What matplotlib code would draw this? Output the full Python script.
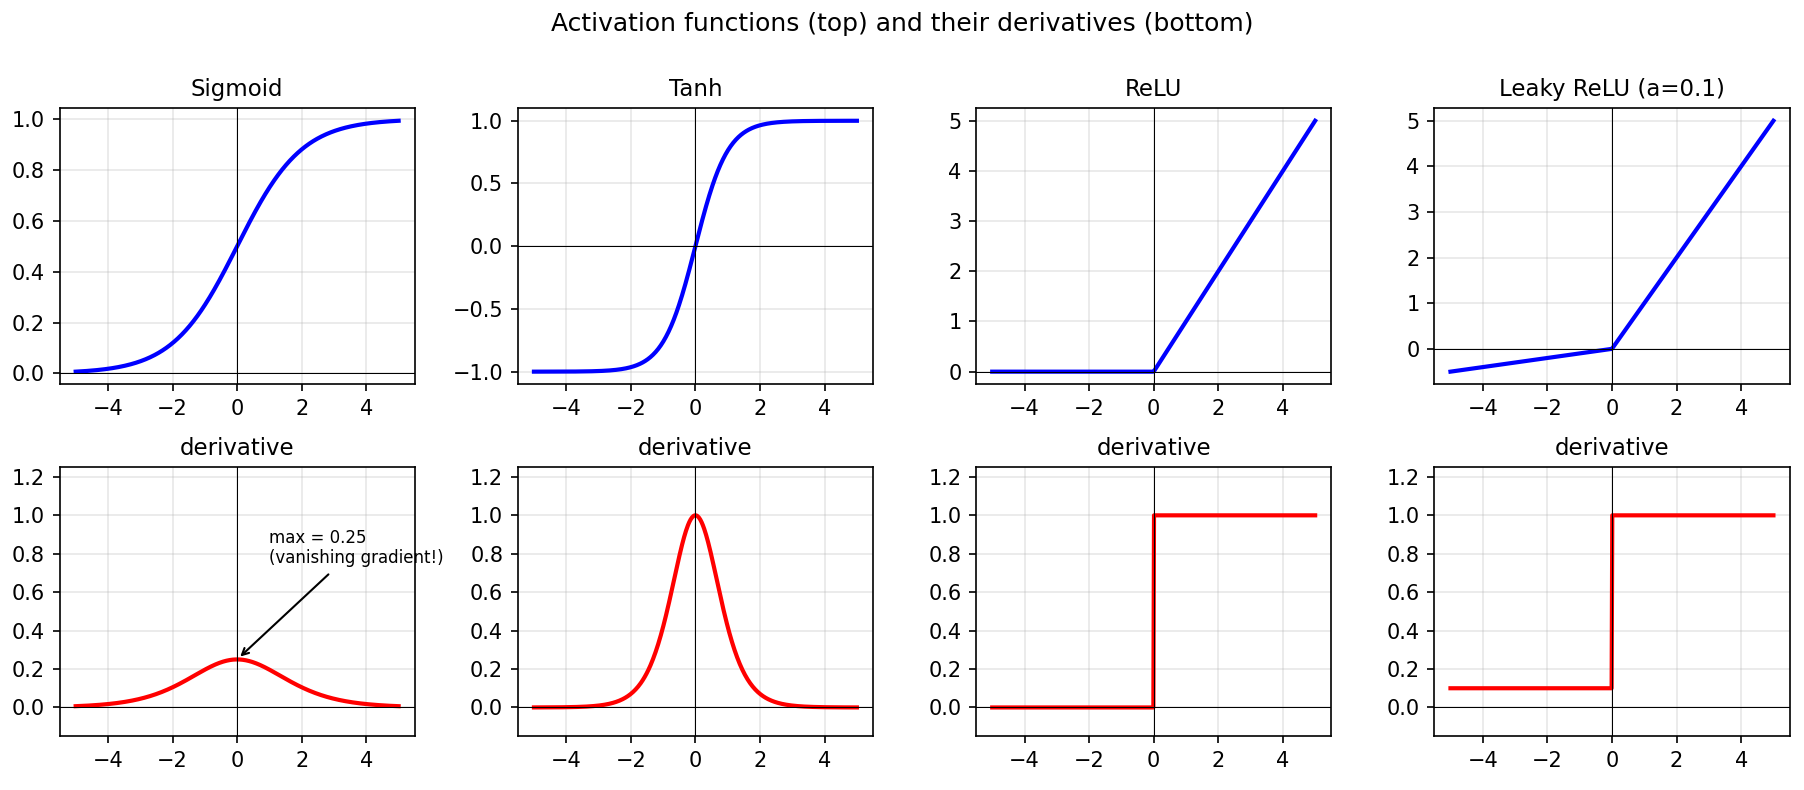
import numpy as np
import matplotlib
matplotlib.use("Agg")
import matplotlib.pyplot as plt
from matplotlib.ticker import MultipleLocator

# x range and parameters
x_min, x_max = -5, 5
n_points = 500
leaky_alpha = 0.1

titles = ["Sigmoid", "Tanh", "ReLU", "Leaky ReLU (a=0.1)"]
top_ytick_steps = [0.2, 0.5, 1, 1]

x = np.linspace(x_min, x_max, n_points)


def sigmoid(z):
    return 1 / (1 + np.exp(-z))


funcs = [
    sigmoid(x),
    np.tanh(x),
    np.maximum(0, x),
    np.where(x > 0, x, leaky_alpha * x),
]
derivs = [
    sigmoid(x) * (1 - sigmoid(x)),
    1 - np.tanh(x) ** 2,
    (x > 0).astype(float),
    np.where(x > 0, 1.0, leaky_alpha),
]

fig, axes = plt.subplots(2, 4, figsize=(1804 / 150, 790 / 150), dpi=150,
                         gridspec_kw={"height_ratios": [276, 269]})
fig.subplots_adjust(left=0.033, right=0.992, top=0.863, bottom=0.068,
                    wspace=0.29, hspace=0.305)

for i in range(4):
    ax = axes[0, i]
    ax.plot(x, funcs[i], color="blue", lw=2)
    ax.set_title(titles[i], fontsize=11)
    ax.axhline(0, color="k", lw=0.5)
    ax.axvline(0, color="k", lw=0.5)
    ax.xaxis.set_major_locator(MultipleLocator(2))
    ax.yaxis.set_major_locator(MultipleLocator(top_ytick_steps[i]))
    ax.grid(True, alpha=0.3)

    ax = axes[1, i]
    ax.plot(x, derivs[i], color="red", lw=2)
    ax.set_title("derivative", fontsize=11)
    ax.axhline(0, color="k", lw=0.5)
    ax.axvline(0, color="k", lw=0.5)
    ax.set_ylim(-0.15, 1.25)
    ax.xaxis.set_major_locator(MultipleLocator(2))
    ax.yaxis.set_major_locator(MultipleLocator(0.2))
    ax.grid(True, alpha=0.3)

axes[1, 0].annotate("max = 0.25\n(vanishing gradient!)", xy=(0, 0.25),
                    xytext=(1, 0.75), fontsize=8,
                    arrowprops=dict(arrowstyle="->", color="black"),
                    annotation_clip=False)

fig.suptitle("Activation functions (top) and their derivatives (bottom)",
             fontsize=12, y=0.985)
fig.savefig("out.png", dpi=150)
